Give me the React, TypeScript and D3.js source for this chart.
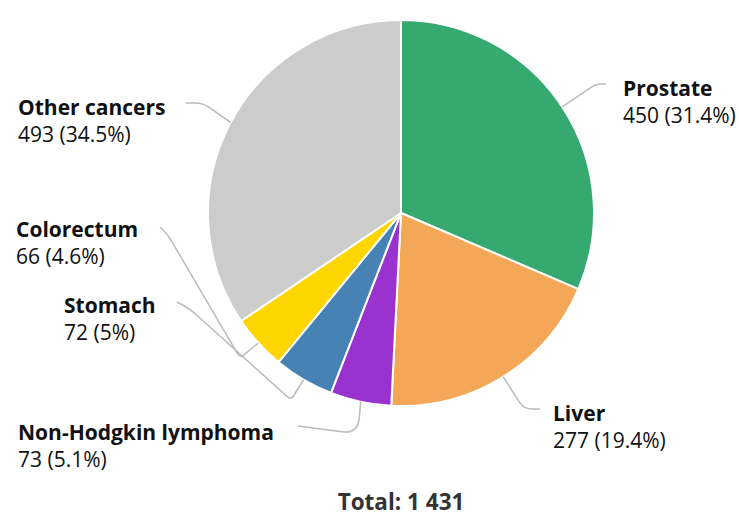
import React, { useEffect, useRef } from 'react';
import * as d3 from 'd3';

// cancer cases by site
const categories = ['Prostate', 'Liver', 'Non-Hodgkin lymphoma', 'Stomach', 'Colorectum', 'Other cancers'];
const values = [450, 277, 73, 72, 66, 493];
const colors = ['#36a971', '#f4a857', '#9a32cf', '#4683b4', '#ffd600', '#cccccc'];

// label placement (text x, name baseline, connector points from the label side)
const labelLayout = [
  { x: 623, y: 96, anchor: 'start', pts: [[606, 84], [596, 84]], radii: [7, 0] },
  { x: 553, y: 421, anchor: 'start', pts: [[540, 409], [524, 409]], radii: [10, 0] },
  { x: 18, y: 440, anchor: 'start', pts: [[298, 426], [358, 434]], radii: [20, 0] },
  { x: 64, y: 313, anchor: 'start', pts: [[177, 302], [190, 309], [291, 400]], radii: [40, 5] },
  { x: 16, y: 237, anchor: 'start', pts: [[160, 227], [168, 235], [240, 358]], radii: [14, 5] },
  { x: 18, y: 115, anchor: 'start', pts: [[186, 103], [203, 103]], radii: [8, 0] },
];

const width = 739;
const height = 517;
const cx = 401;
const cy = 213;
const radius = 193;

const roundedPath = (pts: number[][], radii: number[]) => {
  let d = `M${pts[0][0]},${pts[0][1]}`;
  for (let i = 1; i < pts.length - 1; i++) {
    const p = pts[i];
    const a = pts[i - 1];
    const b = pts[i + 1];
    const la = Math.hypot(a[0] - p[0], a[1] - p[1]);
    const lb = Math.hypot(b[0] - p[0], b[1] - p[1]);
    const r = Math.min(radii[i - 1] || 0, la / 2, lb / 2);
    const p1 = [p[0] + ((a[0] - p[0]) / la) * r, p[1] + ((a[1] - p[1]) / la) * r];
    const p2 = [p[0] + ((b[0] - p[0]) / lb) * r, p[1] + ((b[1] - p[1]) / lb) * r];
    d += `L${p1[0]},${p1[1]}Q${p[0]},${p[1]} ${p2[0]},${p2[1]}`;
  }
  const last = pts[pts.length - 1];
  d += `L${last[0]},${last[1]}`;
  return d;
};

const App = () => {
  const ref = useRef<SVGSVGElement>(null);

  useEffect(() => {
    document.body.style.margin = '0';
    const svg = d3.select(ref.current);
    svg.selectAll('*').remove();

    const data = categories.map((c, i) => ({ label: c, value: values[i], color: colors[i] }));
    const total = d3.sum(values);

    const pie = d3.pie<any>().sort(null).value(d => d.value);
    const arc = d3.arc<any>().innerRadius(0).outerRadius(radius);
    const arcs = pie(data);

    const g = svg.append('g').attr('transform', `translate(${cx},${cy})`);
    g.selectAll('path')
      .data(arcs)
      .enter().append('path')
      .attr('d', arc)
      .attr('fill', d => d.data.color)
      .attr('stroke', '#fff')
      .attr('stroke-width', 2)
      .attr('stroke-linejoin', 'round');

    const fmtPct = (v: number) => `${Math.round((v / total) * 1000) / 10}%`;

    arcs.forEach((a, i) => {
      const lay = labelLayout[i];
      const mid = (a.startAngle + a.endAngle) / 2;
      const edge = [cx + radius * Math.sin(mid), cy - radius * Math.cos(mid)];
      const pts = [...lay.pts, edge];

      svg.append('path')
        .attr('d', roundedPath(pts, lay.radii))
        .attr('fill', 'none')
        .attr('stroke', '#bbbbbb')
        .attr('stroke-width', 1.5);

      const t = svg.append('text')
        .attr('x', lay.x)
        .attr('y', lay.y)
        .attr('text-anchor', lay.anchor)
        .style('font-family', '"Open Sans", "Noto Sans", sans-serif')
        .style('font-size', '21px')
        .attr('fill', '#111');
      t.append('tspan').attr('font-weight', 'bold').text(a.data.label);
      t.append('tspan')
        .attr('x', lay.x)
        .attr('dy', 27)
        .text(`${a.data.value} (${fmtPct(a.data.value)})`);
    });

    const locale = d3.formatLocale({ decimal: '.', thousands: ' ', grouping: [3], currency: ['', ''] });
    svg.append('text')
      .attr('x', cx)
      .attr('y', 510)
      .attr('text-anchor', 'middle')
      .style('font-family', '"Open Sans", "Noto Sans", sans-serif')
      .style('font-size', '22.5px')
      .attr('font-weight', 'bold')
      .attr('fill', '#333')
      .text(`Total: ${locale.format(',')(total)}`);
  }, []);

  return <svg ref={ref} width={width} height={height} style={{ display: 'block' }} />;
};

export default App;
